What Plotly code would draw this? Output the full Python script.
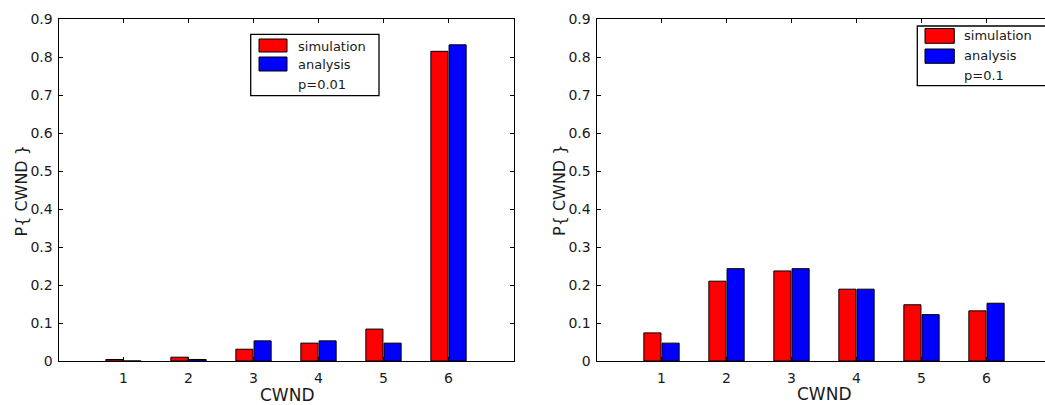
import plotly.graph_objects as go

# ---------------- data ----------------
categories = [1, 2, 3, 4, 5, 6]
sim_p001 = [0.004, 0.010, 0.031, 0.047, 0.084, 0.815]
ana_p001 = [0.000, 0.004, 0.053, 0.053, 0.047, 0.832]
sim_p01 = [0.074, 0.210, 0.237, 0.189, 0.148, 0.132]
ana_p01 = [0.047, 0.243, 0.243, 0.189, 0.122, 0.152]
y_ticks = [0, 0.1, 0.2, 0.3, 0.4, 0.5, 0.6, 0.7, 0.8, 0.9]
series_names = ["simulation", "analysis"]
legend_notes = ["p=0.01", "p=0.1"]
x_title = "CWND"
y_title = "P{ CWND }"

# ---------------- layout helpers ----------------
W, H = 1045, 405
FONT = "DejaVu Sans"
RED, BLUE = "#ff0000", "#0000ff"
TXT = "#1a1a1a"


def px(x):
    return x / W


def py(y):
    return (H - y) / H


fig = go.Figure()

for xa, ya, sim, ana in [("x", "y", sim_p001, ana_p001), ("x2", "y2", sim_p01, ana_p01)]:
    fig.add_trace(go.Bar(x=categories, y=sim, name=series_names[0], xaxis=xa, yaxis=ya,
                         marker=dict(color=RED, line=dict(color="black", width=1)),
                         showlegend=False))
    fig.add_trace(go.Bar(x=categories, y=ana, name=series_names[1], xaxis=xa, yaxis=ya,
                         marker=dict(color=BLUE, line=dict(color="black", width=1)),
                         showlegend=False))

# plot area pixel geometry
L1, R1 = 58.5, 513.5
L2 = 596.5
TOP, BOT = 19, 361
unit2 = (R1 - L1) / 7.0
x2max = (W - L2) / unit2

axis_common = dict(
    showline=True, linecolor="black", linewidth=1,
    ticks="inside", ticklen=4, tickwidth=1, tickcolor="black",
    showgrid=False, zeroline=False, automargin=False,
    tickfont=dict(family=FONT, size=14, color=TXT),
)

fig.update_layout(
    template="none",
    width=W, height=H,
    margin=dict(l=0, r=0, t=0, b=0, pad=0),
    paper_bgcolor="white", plot_bgcolor="white",
    barmode="group", bargap=0.44, bargroupgap=0.06,
    showlegend=False,
    xaxis=dict(domain=[px(L1), px(R1)], range=[0, 7], tickvals=categories,
               mirror="ticks", anchor="y", ticklabelstandoff=4, **axis_common),
    yaxis=dict(domain=[py(BOT), py(TOP)], range=[0, 0.9], tickvals=y_ticks,
               mirror="ticks", anchor="x", ticklabelstandoff=2, **axis_common),
    xaxis2=dict(domain=[px(L2), 1.0], range=[0, x2max], tickvals=categories,
                mirror="ticks", anchor="y2", ticklabelstandoff=4, **axis_common),
    yaxis2=dict(domain=[py(BOT), py(TOP)], range=[0, 0.9], tickvals=y_ticks,
                mirror=False, anchor="x2", ticklabelstandoff=2, **axis_common),
)

annotations = []
shapes = []

# axis titles
annotations.append(dict(x=px(287), y=py(395), xref="paper", yref="paper", text=x_title,
                        showarrow=False, xanchor="center", yanchor="middle",
                        font=dict(family=FONT, size=17, color=TXT)))
annotations.append(dict(x=px(824), y=py(393.5), xref="paper", yref="paper", text=x_title,
                        showarrow=False, xanchor="center", yanchor="middle",
                        font=dict(family=FONT, size=17, color=TXT)))
annotations.append(dict(x=px(20.5), y=py(191), xref="paper", yref="paper", text=y_title,
                        textangle=-90, showarrow=False, xanchor="center", yanchor="middle",
                        font=dict(family=FONT, size=16, color=TXT)))
annotations.append(dict(x=px(559), y=py(191), xref="paper", yref="paper", text=y_title,
                        textangle=-90, showarrow=False, xanchor="center", yanchor="middle",
                        font=dict(family=FONT, size=16, color=TXT)))

# legends (box, patches, labels)
legends = [
    dict(box=(250.7, 34.3, 379, 95.7), patch_x=(259, 287), red_y=(39, 52), blue_y=(57, 71),
         text_x=296, text_y=(46, 64.5, 84.5), note=legend_notes[0]),
    dict(box=(917.3, 26, 1060, 85.7), patch_x=(925, 954.3), red_y=(28.5, 43.3), blue_y=(49, 63.3),
         text_x=962, text_y=(35, 55.5, 75), note=legend_notes[1]),
]
for lg in legends:
    x0, y0, x1, y1 = lg["box"]
    shapes.append(dict(type="rect", xref="paper", yref="paper", x0=px(x0), x1=px(x1),
                       y0=py(y1), y1=py(y0), fillcolor="white",
                       line=dict(color="black", width=1.3), layer="above"))
    for col, (ya0, ya1) in [(RED, lg["red_y"]), (BLUE, lg["blue_y"])]:
        shapes.append(dict(type="rect", xref="paper", yref="paper",
                           x0=px(lg["patch_x"][0]), x1=px(lg["patch_x"][1]),
                           y0=py(ya1), y1=py(ya0), fillcolor=col,
                           line=dict(color="black", width=1), layer="above"))
    for txt, ty in zip(series_names + [lg["note"]], lg["text_y"]):
        annotations.append(dict(x=px(lg["text_x"]), y=py(ty), xref="paper", yref="paper",
                                text=txt, showarrow=False, xanchor="left", yanchor="middle",
                                font=dict(family=FONT, size=13, color=TXT)))

fig.update_layout(annotations=annotations, shapes=shapes)

# remove the browser's default page margin so the figure fills the window exactly
fig.write_html("out.html",
               config={"displayModeBar": False},
               post_script="document.body.style.margin='0px';document.body.style.overflow='hidden';")
